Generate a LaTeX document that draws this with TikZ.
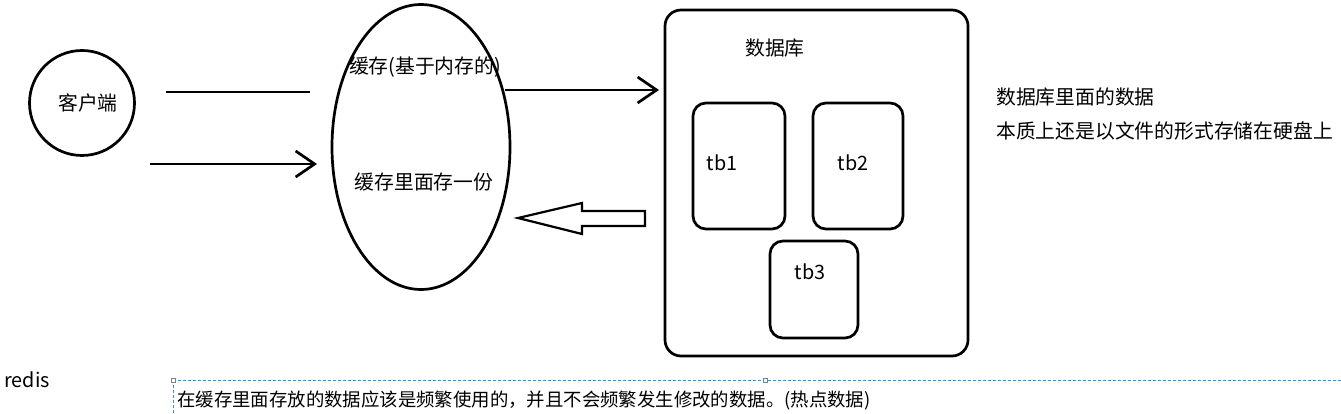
\documentclass[tikz,border=0pt]{standalone}
\usepackage{fontspec}
\setmainfont{Noto Sans CJK SC}
\usetikzlibrary{shapes.geometric,arrows.meta}
\definecolor{selblue}{RGB}{70,140,200}
\begin{document}
\begin{tikzpicture}[x=1pt,y=-1pt, line width=2.7pt,
  lbl/.style={font=\fontsize{19.8}{22}\selectfont, inner sep=0pt},
  small/.style={font=\fontsize{18.4}{21}\selectfont, inner sep=0pt},
  tbbox/.style={draw, rounded corners=13pt, inner sep=0pt},
  openarrow/.style={-{Straight Barb[length=19pt,width=26pt,line width=2.7pt]}},
  hollow/.style={draw, line width=2.2pt, line join=miter},
  handle/.style={draw=gray, fill=white, line width=0.6pt, minimum size=4pt, inner sep=0pt},
  selline/.style={draw=selblue, line width=0.9pt, dash pattern=on 3pt off 2pt}]
\useasboundingbox (0,0) rectangle (1341,414);

% client
\node[draw, circle, minimum size=105pt, inner sep=0pt] (client) at (82,103) {};
\node[lbl] (clientlbl) at (88,103) {客户端};

% cache ellipse
\node[draw, ellipse, minimum width=178pt, minimum height=285pt, inner sep=0pt] (cache) at (421,147) {};
\node[lbl] (cachelbl) at (425,67) {缓存(基于内存的)};
\node[lbl] (copylbl) at (424,182) {缓存里面存一份};

% database box
\node[draw, rounded corners=16pt, minimum width=303pt, minimum height=346pt, inner sep=0pt] (db) at (816.5,183) {};
\node[lbl] (dblbl) at (775,48) {数据库};
\node[tbbox, minimum width=92pt, minimum height=126pt] (tb1) at (739,166) {};
\node[tbbox, minimum width=90pt, minimum height=126pt] (tb2) at (858,166) {};
\node[tbbox, minimum width=88pt, minimum height=97pt] (tb3) at (814,289.5) {};
\node[lbl] at (722,163) {tb1};
\node[lbl] at (853,163) {tb2};
\node[lbl] at (810,272) {tb3};

% connectors
\coordinate (l1a) at (166,92);
\coordinate (l1b) at (310,92);
\draw (l1a) -- (l1b);
\coordinate (a1a) at (150,164);
\coordinate (a1b) at (317,164);
\draw[openarrow] (a1a) -- (a1b);
\coordinate (a2a) at (505,90);
\coordinate (a2b) at (659,90);
\draw[openarrow] (a2a) -- (a2b);

% hollow arrow from db back to cache
\draw[hollow] (518,218) -- (582,203) -- (582,211) -- (645,211) -- (645,226) -- (582,226) -- (582,234) -- cycle;

% right text
\node[lbl, anchor=west] (note1) at (995,97) {数据库里面的数据};
\node[lbl, anchor=west] (note2) at (995,131) {本质上还是以文件的形式存储在硬盘上};

% bottom
\node[lbl, anchor=west] (redis) at (3,380) {redis};
\draw[selline] (173,380) -- (1341,380);
\draw[selline] (173,380) -- (173,414);
\node[handle] at (173,380) {};
\node[handle] at (765,380) {};
\node[small, anchor=west] (bottom) at (176,400) {在缓存里面存放的数据应该是频繁使用的，并且不会频繁发生修改的数据。(热点数据)};
\end{tikzpicture}
\end{document}
